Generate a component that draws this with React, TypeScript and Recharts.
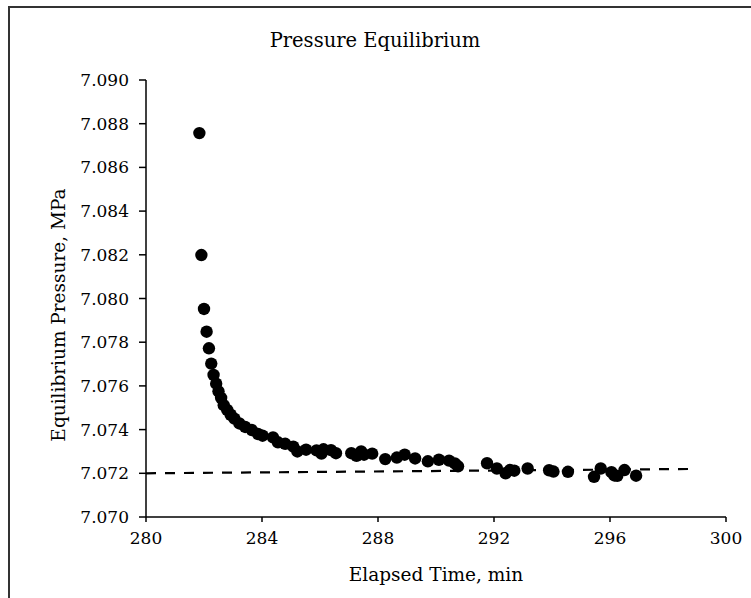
import { ScatterChart, Scatter, XAxis, YAxis, ReferenceLine, Label } from 'recharts';

// elapsed time (min) and equilibrium pressure (MPa)
const elapsedMin = [
  281.84, 281.91, 282.0, 282.09, 282.17, 282.25, 282.33, 282.42, 282.5, 282.59,
  282.68, 282.8, 282.92, 283.05, 283.22, 283.42, 283.65, 283.86, 284.02, 284.38,
  284.55, 284.8, 285.08, 285.22, 285.52, 285.88, 286.05, 286.12, 286.38, 286.55,
  287.08, 287.26, 287.42, 287.52, 287.8, 288.25, 288.65, 288.92, 289.28, 289.72,
  290.1, 290.45, 290.65, 290.76, 291.76, 292.1, 292.4, 292.55, 292.7, 293.16,
  293.9, 294.05, 294.55, 295.45, 295.68, 296.05, 296.15, 296.25, 296.5, 296.9,
];
const pressureMPa = [
  7.08757, 7.08199, 7.07952, 7.07848, 7.07772, 7.07702, 7.0765, 7.0761, 7.07575, 7.07545,
  7.07512, 7.0749, 7.07468, 7.0745, 7.07428, 7.07412, 7.07398, 7.0738, 7.07372, 7.07364,
  7.07342, 7.07335, 7.07322, 7.073, 7.07308, 7.07305, 7.0729, 7.0731, 7.07306, 7.07292,
  7.07292, 7.0728, 7.073, 7.07285, 7.0729, 7.07265, 7.07272, 7.07285, 7.07268, 7.07255,
  7.07262, 7.07258, 7.07245, 7.07232, 7.07246, 7.07222, 7.072, 7.07215, 7.07212, 7.07222,
  7.07214, 7.07208, 7.07207, 7.07184, 7.07222, 7.07205, 7.0719, 7.07188, 7.07215, 7.07189,
];

// dashed equilibrium line end points
const eqLineX = [280, 298.9];
const eqLineY = [7.072, 7.0722];

const xTicks = [280, 284, 288, 292, 296, 300];
const yTicks = [7.07, 7.072, 7.074, 7.076, 7.078, 7.08, 7.082, 7.084, 7.086, 7.088, 7.09];

const points = elapsedMin.map((t, i) => ({ t, p: pressureMPa[i] }));

const FONT = '"DejaVu Serif", serif';

export default function App() {
  return (
    <div style={{ position: 'absolute', left: 0, top: 0, width: 751, height: 598, overflow: 'hidden', background: '#fff' }}>
      <div
        style={{
          position: 'absolute',
          left: 8,
          top: 6,
          width: 800,
          height: 700,
          border: '2px solid #333',
        }}
      />
      <div
        style={{
          position: 'absolute',
          left: 0,
          width: 750,
          top: 29,
          textAlign: 'center',
          fontFamily: FONT,
          fontSize: 19.5,
          color: '#000',
        }}
      >
        Pressure Equilibrium
      </div>
      {/* y axis title, centred a bit below the plot middle like the original */}
      <div
        style={{
          position: 'absolute',
          left: 58,
          top: 315,
          transform: 'translate(-50%, -50%) rotate(-90deg)',
          whiteSpace: 'nowrap',
          fontFamily: FONT,
          fontSize: 18.5,
          color: '#000',
        }}
      >
        Equilibrium Pressure, MPa
      </div>
      <div style={{ position: 'absolute', left: 0, top: 0 }}>
        <ScatterChart width={751} height={598} margin={{ top: 80, right: 25, bottom: 11, left: 0 }}>
          <XAxis
            type="number"
            dataKey="t"
            domain={[280, 300]}
            ticks={xTicks}
            allowDataOverflow
            height={70}
            tickSize={5}
            tickMargin={10}
            stroke="#000"
            strokeWidth={1.5}
            tick={{ fill: '#000', fontSize: 17, fontFamily: FONT }}
          >
            <Label value="Elapsed Time, min" position="insideBottom" offset={6} fill="#000" fontSize={18.5} fontFamily={FONT} />
          </XAxis>
          <YAxis
            type="number"
            dataKey="p"
            domain={[7.07, 7.09]}
            ticks={yTicks}
            allowDataOverflow
            width={146}
            tickSize={7}
            tickMargin={10}
            stroke="#000"
            strokeWidth={1.5}
            tickFormatter={(v: number) => v.toFixed(3)}
            tick={{ fill: '#000', fontSize: 17, fontFamily: FONT }}
          />
          <ReferenceLine
            segment={[
              { x: eqLineX[0], y: eqLineY[0] },
              { x: eqLineX[1], y: eqLineY[1] },
            ]}
            stroke="#000"
            strokeWidth={2.2}
            strokeDasharray="10 9"
          />
          <Scatter data={points} fill="#000" isAnimationActive={false} shape={(props: any) => <circle cx={props.cx} cy={props.cy} r={6.2} fill="#000" />} />
        </ScatterChart>
      </div>
    </div>
  );
}
